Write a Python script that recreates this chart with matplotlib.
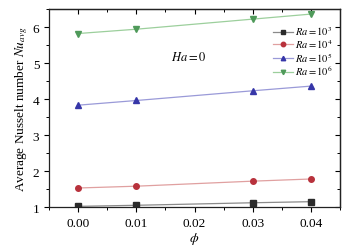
import numpy as np
import matplotlib.pyplot as plt
from matplotlib.ticker import MultipleLocator

# volume fraction
phi = [0.00, 0.01, 0.03, 0.04]

# average Nusselt number for each Rayleigh number
nu_ra3 = [1.02, 1.05, 1.12, 1.15]
nu_ra4 = [1.53, 1.58, 1.72, 1.78]
nu_ra5 = [3.83, 3.96, 4.23, 4.36]
nu_ra6 = [5.82, 5.94, 6.22, 6.36]

labels = [r'$\it{Ra}$$=10^3$', r'$\it{Ra}$$=10^4$', r'$\it{Ra}$$=10^5$', r'$\it{Ra}$$=10^6$']

plt.rcParams['font.family'] = ['Liberation Serif', 'DejaVu Serif']
plt.rcParams['mathtext.fontset'] = 'stix'

fig = plt.figure(figsize=(3.61, 2.51), dpi=100)
ax = fig.add_axes([0.136, 0.171, 0.806, 0.789])

series = [nu_ra3, nu_ra4, nu_ra5, nu_ra6]
markers = ['s', 'o', '^', 'v']
mcolors = ['#2b2b2b', '#b8323c', '#3636a8', '#4f9a5a']
lcolors = ['#8a8a8a', '#e0a0a0', '#9a9ad8', '#9ccf9c']

for y, m, mc, lc, lab in zip(series, markers, mcolors, lcolors, labels):
    ax.plot(phi, y, color=lc, linewidth=0.9, marker=m, markersize=4,
            markerfacecolor=mc, markeredgecolor=mc, label=lab)

ax.set_xlim(-0.005, 0.045)
ax.set_ylim(1, 6.5)
ax.xaxis.set_major_locator(MultipleLocator(0.01))
ax.xaxis.set_minor_locator(MultipleLocator(0.005))
ax.yaxis.set_major_locator(MultipleLocator(1))
ax.yaxis.set_minor_locator(MultipleLocator(0.5))
ax.xaxis.set_major_formatter(plt.FuncFormatter(lambda v, p: f'{v:.2f}'))

ax.tick_params(axis='both', which='both', labelsize=9.5, direction='out')
ax.tick_params(axis='both', which='major', length=3.5, width=0.8)
ax.tick_params(axis='both', which='minor', length=2, width=0.7)

# top/right ticks point inward
top = ax.secondary_xaxis('top')
right = ax.secondary_yaxis('right')
for sec, loc, minor in [(top.xaxis, 0.01, 0.005), (right.yaxis, 1, 0.5)]:
    sec.set_major_locator(MultipleLocator(loc))
    sec.set_minor_locator(MultipleLocator(minor))
for sec in (top, right):
    sec.tick_params(which='both', direction='in', labeltop=False, labelright=False)
    sec.tick_params(which='major', length=3.5, width=0.8)
    sec.tick_params(which='minor', length=2, width=0.7)
    for s in sec.spines.values():
        s.set_linewidth(0.9)
        s.set_color('#222222')

for s in ax.spines.values():
    s.set_linewidth(0.9)
    s.set_color('#222222')

ax.set_xlabel(r'$\phi$', fontsize=10, labelpad=1)
ax.set_ylabel(r'Average Nusselt number $\it{Nu}_{avg}$', fontsize=9.5, labelpad=2)

ax.text(0.019, 5.17, r'$\it{Ha}$$=0$', fontsize=9, ha='center', va='center')

ax.legend(loc='upper right', bbox_to_anchor=(1.0, 0.96), frameon=False, fontsize=7.5,
          handlelength=1.9, handletextpad=0.2, labelspacing=0.0, borderaxespad=0.3,
          markerscale=0.8)

fig.savefig('out.png', dpi=100)
plt.close()
